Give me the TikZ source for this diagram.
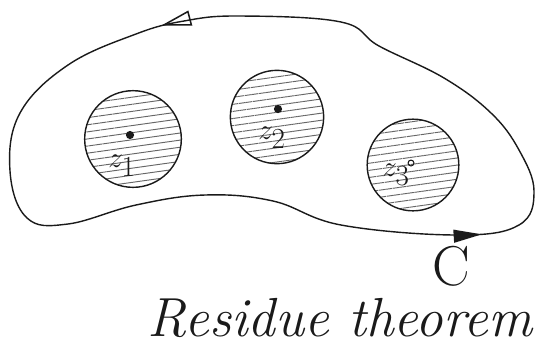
\documentclass[tikz,border=0pt]{standalone}
\usepackage{xcolor}
\usetikzlibrary{positioning,arrows.meta,decorations.markings,patterns.meta}
\definecolor{ink}{HTML}{1A1A1A}
\definecolor{hatch}{HTML}{666666}
\tikzset{
    pole disc/.style={circle, draw=ink, line width=1.2pt, inner sep=0pt, minimum size=2.7cm, pattern={Lines[angle=8, distance=6pt, line width=0.8pt]}, pattern color=hatch},
    pole/.style={circle, fill=ink, inner sep=0pt, minimum size=7pt},
    pole open/.style={circle, draw=ink, line width=0.9pt, inner sep=0pt, minimum size=5pt},
    zlabel/.style={font=\fontsize{36}{36}\selectfont, text=ink, inner sep=0pt},
    contour/.style={line width=1.2pt, draw=ink, postaction={decorate}, decoration={markings,
        mark=at position 0.062 with {\arrow{Triangle[open, length=26pt, width=13pt, line width=1.3pt]}},
        mark=at position 0.648 with {\arrow{Triangle[length=24pt, width=11pt]}}}}
}

\begin{document}
\begin{tikzpicture}[x=0.03cm, y=-0.03cm]
\useasboundingbox (0,0) rectangle (535,350);

% closed contour C
\draw[contour] plot[smooth cycle, tension=0.65] coordinates {
    (341,22) (239,16) (184,21) (136,34) (68,65) (20,113) (10,171) (27,218)
    (68,224) (136,205) (205,195) (273,201) (341,225) (457,235) (519,225)
    (534,191) (519,150) (491,113) (444,78) (379,46)};

% discs round the poles
\node[pole disc, minimum width=2.9cm, minimum height=2.7cm] (disc1) at (133,139) {};
\node[pole disc, minimum width=2.7cm, minimum height=2.8cm] (disc2) at (277,117) {};
\node[pole disc, minimum width=2.75cm, minimum height=2.55cm] (disc3) at (413,165) {};

\node[pole] (p1) at (130,135) {};
\node[pole] (p2) at (278,109) {};
\node[pole open] (p3) at (411,163) {};

\node[zlabel] (z1) at (122,166) {$z_1$};
\node[zlabel] (z2) at (272,138) {$z_2$};
\node[zlabel] (z3) at (396,175) {$z_3$};

% labels
\node[font=\fontsize{48}{48}\selectfont, text=ink, inner sep=0pt] (c) at (451,266) {C};
\node[font=\fontsize{47}{47}\selectfont\itshape, text=ink, inner sep=0pt] (title) at (340,318) {Residue theorem};

\end{tikzpicture}
\end{document}
